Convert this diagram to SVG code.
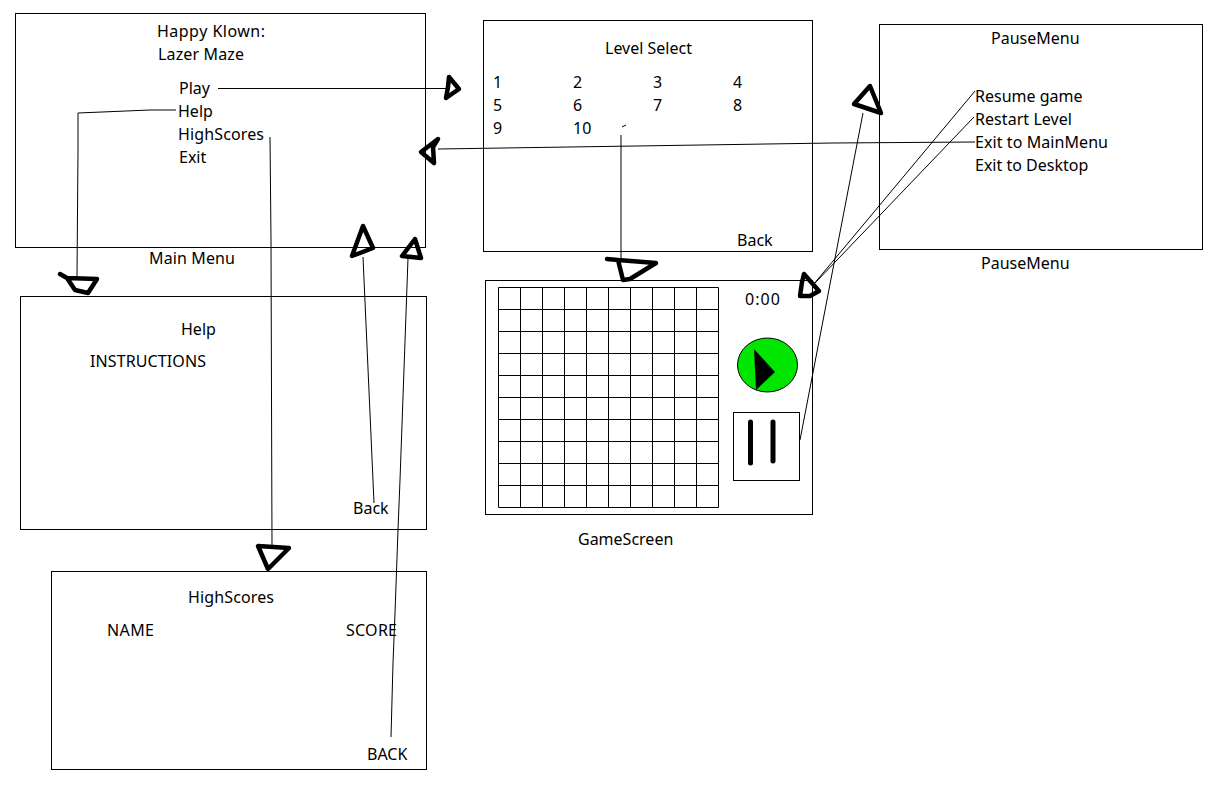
<svg xmlns="http://www.w3.org/2000/svg" width="1225" height="800" viewBox="0 0 1225 800">
<style>
.b{fill:none;stroke:#000;stroke-width:1}
.t{font-family:"Noto Sans","Open Sans",sans-serif;font-size:16px;fill:#000}
.c{fill:none;stroke:#000;stroke-width:1}
.a{fill:none;stroke:#000;stroke-width:4.5;stroke-linejoin:round;stroke-linecap:round}
</style>
<rect width="1225" height="800" fill="#fff"/>
<g id="main-menu">
<rect class="b" x="15.5" y="13.5" width="410" height="234"/>
<text class="t" x="157" y="37" textLength="108">Happy Klown:</text>
<text class="t" x="158" y="60" textLength="86">Lazer Maze</text>
<text class="t" x="179" y="94">Play</text>
<text class="t" x="178" y="117">Help</text>
<text class="t" x="178" y="140" textLength="86">HighScores</text>
<text class="t" x="179" y="163">Exit</text>
<text class="t" x="149" y="264" textLength="86">Main Menu</text>
</g>
<g id="help">
<rect class="b" x="20.5" y="296.5" width="406" height="233"/>
<text class="t" x="181" y="335">Help</text>
<text class="t" x="90" y="367" textLength="116">INSTRUCTIONS</text>
<text class="t" x="353" y="514">Back</text>
</g>
<g id="highscores">
<rect class="b" x="51.5" y="571.5" width="375" height="198"/>
<text class="t" x="188" y="603" textLength="86">HighScores</text>
<text class="t" x="107" y="636" textLength="47">NAME</text>
<text class="t" x="346" y="636" textLength="51">SCORE</text>
<text class="t" x="367" y="760">BACK</text>
</g>
<g id="level-select">
<rect class="b" x="483.5" y="20.5" width="329" height="231"/>
<text class="t" x="605" y="54">Level Select</text>
<text class="t" x="493" y="88">1</text><text class="t" x="573" y="88">2</text><text class="t" x="653" y="88">3</text><text class="t" x="733" y="88">4</text>
<text class="t" x="493" y="111">5</text><text class="t" x="573" y="111">6</text><text class="t" x="653" y="111">7</text><text class="t" x="733" y="111">8</text>
<text class="t" x="493" y="134">9</text><text class="t" x="573" y="134">10</text>
<text class="t" x="737" y="246">Back</text>
</g>
<g id="game-screen">
<rect class="b" x="485.5" y="280.5" width="327" height="234"/>
<path class="b" d="M498.5 287.5H718.5V507.5H498.5ZM520.5 287.5V507.5M542.5 287.5V507.5M564.5 287.5V507.5M586.5 287.5V507.5M608.5 287.5V507.5M630.5 287.5V507.5M652.5 287.5V507.5M674.5 287.5V507.5M696.5 287.5V507.5M498.5 309.5H718.5M498.5 331.5H718.5M498.5 353.5H718.5M498.5 375.5H718.5M498.5 397.5H718.5M498.5 419.5H718.5M498.5 441.5H718.5M498.5 463.5H718.5M498.5 485.5H718.5"/>
<text class="t" x="745" y="305" textLength="35">0:00</text>
<ellipse cx="767.5" cy="365" rx="30" ry="27" fill="#00e600" stroke="#000"/>
<path d="M754 349L775 372L756 390Z" fill="#000"/>
<rect class="b" x="733.5" y="412.5" width="66" height="68"/>
<path d="M750.5 422V463M773 422V461" fill="none" stroke="#000" stroke-width="5" stroke-linecap="round"/>
<text class="t" x="578" y="545">GameScreen</text>
</g>
<g id="pause-menu">
<rect class="b" x="879.5" y="24.5" width="323" height="225"/>
<text class="t" x="991" y="44">PauseMenu</text>
<text class="t" x="975" y="102">Resume game</text>
<text class="t" x="975" y="125" textLength="97">Restart Level</text>
<text class="t" x="975" y="148" textLength="133">Exit to MainMenu</text>
<text class="t" x="975" y="171">Exit to Desktop</text>
<text class="t" x="981" y="269">PauseMenu</text>
</g>
<g id="connectors">
<path class="c" d="M218 88.5H447"/>
<path class="c" d="M176 110H150L78 113L78 150L77 276"/>
<path class="c" d="M270 137L271 240L272 545"/>
<path class="c" d="M374 503L363 257"/>
<path class="c" d="M391 737L393 663L395 613L398 530L400 480L408 258"/>
<path class="c" d="M622 127L626 125M621 135V259"/>
<path class="c" d="M975 142L833 143L438 149"/>
<path class="c" d="M975 91L813 285"/>
<path class="c" d="M974 117L815 283"/>
<path class="c" d="M800 440L863 113"/>
<path class="a" d="M449 77L459 89L446 98L448 87Z"/>
<path class="a" d="M438 139L421 152L434 163L433 147Z"/>
<path class="a" d="M363 226L352 256L373 248Z"/>
<path class="a" d="M415 239L402 256L421 258Z"/>
<path class="a" d="M60 274L67 278L75 290L88 293L97 279L67 278"/>
<path class="a" d="M607 259L618 260L656 263L630 279L623 280L618 260"/>
<path class="a" d="M804 274L819 291L810 296L800 296L802 282Z"/>
<path class="a" d="M870 86L854 104L881 113Z"/>
<path class="a" d="M258 546L289 548L268 569Z"/>
</g>
</svg>
